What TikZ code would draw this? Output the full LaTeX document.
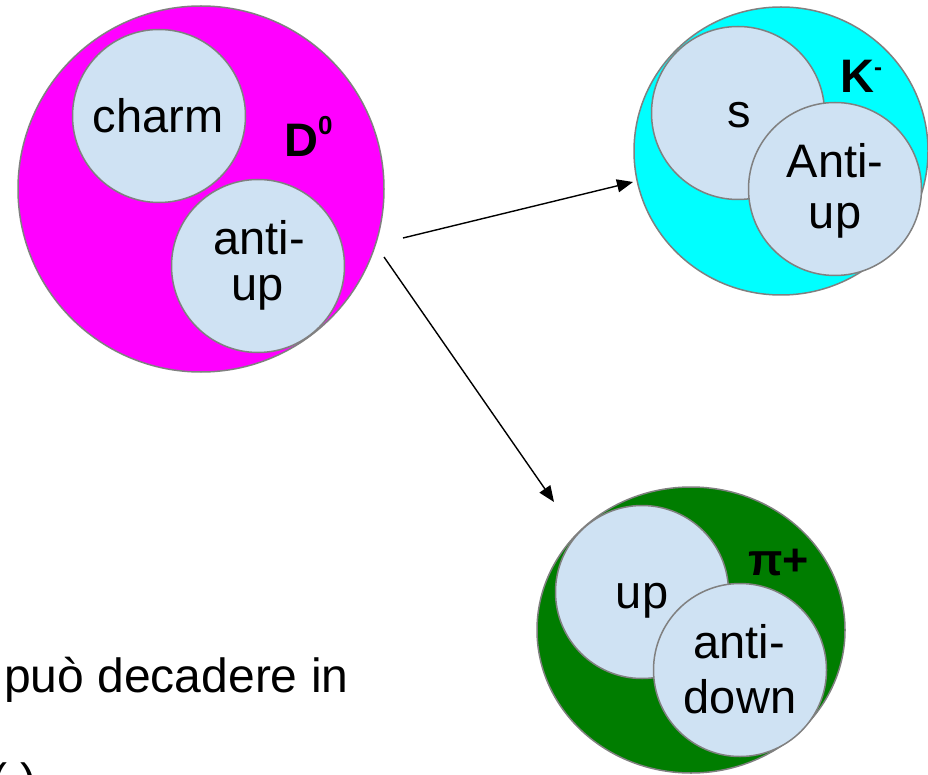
\documentclass[tikz,border=0pt]{standalone}
\usepackage{fontspec}
\setmainfont{Liberation Sans}
\usetikzlibrary{arrows.meta,shapes.geometric}
\definecolor{qfill}{RGB}{207,226,243}
\definecolor{qline}{RGB}{128,128,128}
\definecolor{dgreen}{RGB}{0,125,0}
\definecolor{dmag}{RGB}{255,0,255}
\definecolor{kcyan}{RGB}{0,255,255}
\begin{document}
\begin{tikzpicture}[x=1pt,y=-1pt,
  hadron/.style={ellipse,draw=qline,line width=1.5pt,inner sep=0pt,outer sep=0pt},
  quark/.style={circle,draw=qline,line width=1.5pt,fill=qfill,inner sep=0pt,outer sep=0pt,minimum size=173pt},
  lbl/.style={anchor=base,inner sep=0pt,font=\fontsize{47}{47}\selectfont},
  pname/.style={anchor=base west,inner sep=0pt,font=\fontsize{47}{47}\selectfont\bfseries},
  decay/.style={draw=black,line width=1.4pt,-{Triangle[length=16pt,width=13pt]}}]
\useasboundingbox (0,0) rectangle (928,775);
% D0
\node[hadron,fill=dmag,minimum width=366pt,minimum height=366pt] (D0) at (201,189) {};
\node[quark] (charm) at (159,116) {};
\node[quark] (aup1) at (258,266) {};
\node[lbl] (tcharm) at (158,133) {charm};
\node[lbl] (tanti1) at (259,255) {anti-};
\node[lbl] (tup1) at (258,301) {up};
\node[pname] (tD) at (284,157) {D\raisebox{22pt}{\fontsize{26}{26}\selectfont 0}};
% K-
\node[hadron,fill=kcyan,minimum width=294pt,minimum height=288pt] (K) at (781,151) {};
\node[quark] (sq) at (738,113) {};
\node[quark] (aup2) at (835,189) {};
\node[lbl] (ts) at (739,128) {s};
\node[lbl] (tanti2) at (835,178) {Anti-};
\node[lbl] (tup2) at (835,229) {up};
\node[pname] (tK) at (840,93) {K\raisebox{17pt}{\fontsize{24}{24}\selectfont -}};
% pi+
\node[hadron,fill=dgreen,minimum width=308pt,minimum height=286pt] (pi) at (691,630) {};
\node[quark] (upq) at (642,592) {};
\node[quark] (adown) at (740,670) {};
\node[lbl] (tup3) at (642,608) {up};
\node[lbl] (tanti3) at (739,658) {anti-};
\node[lbl] (tdown) at (740,713) {down};
\node[pname,font=\fontsize{45}{45}\selectfont\bfseries] (tpi) at (748,575) {π+};
% text
\node[anchor=base west,inner sep=0pt,font=\fontsize{48}{48}\selectfont] (txt) at (4,692) {può decadere in};
\node[anchor=base west,inner sep=0pt,font=\fontsize{48}{48}\selectfont] (txt2) at (-9,797) {( )};
% arrows
\coordinate (a1s) at (403,238);
\coordinate (a1e) at (633,182);
\coordinate (a2s) at (384,257);
\coordinate (a2e) at (554,502);
\draw[decay] (a1s) -- (a1e);
\draw[decay] (a2s) -- (a2e);
\end{tikzpicture}
\end{document}
